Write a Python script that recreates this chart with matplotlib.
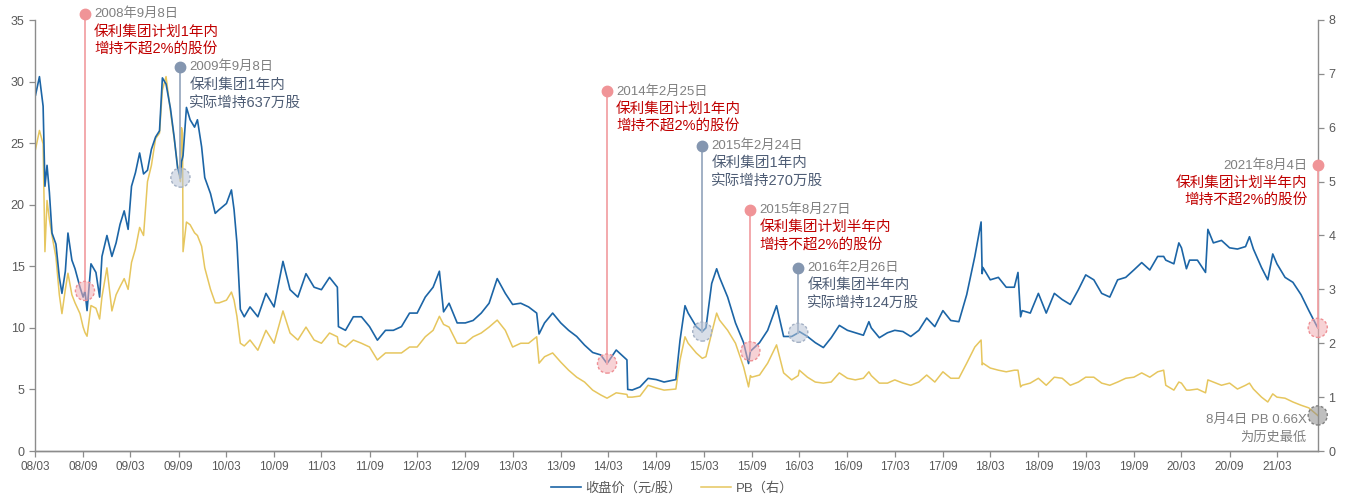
import matplotlib
matplotlib.use("Agg")
import matplotlib.pyplot as plt
import matplotlib.dates as mdates
import pandas as pd

plt.rcParams['font.family'] = ['Liberation Sans', 'Noto Sans CJK SC']

# values
dates = [
    # 2008
    "2008-03-03", "2008-03-18", "2008-04-01", "2008-04-08", "2008-04-16", "2008-04-25", "2008-05-05", "2008-05-20",
    "2008-06-02", "2008-06-12", "2008-06-25", "2008-07-05", "2008-07-20", "2008-08-01", "2008-08-20", "2008-09-01",
    "2008-09-08", "2008-09-16", "2008-10-01", "2008-10-20", "2008-11-03", "2008-11-12", "2008-12-01", "2008-12-20",
    # 2009
    "2009-01-05", "2009-01-20", "2009-02-05", "2009-02-20", "2009-03-05", "2009-03-20", "2009-04-05", "2009-04-20",
    "2009-05-05", "2009-05-20", "2009-06-05", "2009-06-20", "2009-07-01", "2009-07-15", "2009-08-01", "2009-08-15",
    "2009-08-28", "2009-09-08", "2009-09-12", "2009-09-16", "2009-09-18", "2009-10-01", "2009-10-15", "2009-11-01",
    "2009-11-12", "2009-11-28", "2009-12-10",
    # 2010
    "2010-01-01", "2010-01-19", "2010-02-03", "2010-03-03", "2010-03-22", "2010-04-01", "2010-04-12", "2010-04-25",
    "2010-05-10", "2010-06-01", "2010-07-01", "2010-08-01", "2010-09-01", "2010-10-05", "2010-11-01", "2010-12-01",
    # 2011
    "2011-01-01", "2011-02-01", "2011-03-01", "2011-04-01", "2011-05-01", "2011-05-05", "2011-06-01", "2011-07-01",
    "2011-08-01", "2011-09-01", "2011-10-01", "2011-11-01", "2011-12-01",
    # 2012
    "2012-01-01", "2012-02-01", "2012-03-01", "2012-04-01", "2012-05-01", "2012-05-25", "2012-06-10", "2012-07-01",
    "2012-08-01", "2012-09-01", "2012-10-01", "2012-11-01", "2012-12-01",
    # 2013
    "2013-01-01", "2013-02-01", "2013-03-01", "2013-04-01", "2013-05-01", "2013-06-01", "2013-06-10", "2013-07-01",
    "2013-08-01", "2013-09-01", "2013-10-01", "2013-11-01", "2013-12-01",
    # 2014
    "2014-01-01", "2014-02-01", "2014-02-25", "2014-04-01", "2014-05-12", "2014-05-15", "2014-06-01", "2014-07-01",
    "2014-08-01", "2014-09-01", "2014-10-01", "2014-11-15", "2014-12-01", "2014-12-20",
    # 2015
    "2015-01-01", "2015-02-01", "2015-02-24", "2015-03-10", "2015-04-01", "2015-04-20", "2015-05-01", "2015-06-01",
    "2015-07-01", "2015-08-01", "2015-08-20", "2015-08-27", "2015-09-01", "2015-10-01", "2015-11-01", "2015-12-05",
    # 2016
    "2016-01-01", "2016-02-01", "2016-02-26", "2016-03-01", "2016-04-01", "2016-05-01", "2016-06-01", "2016-07-01",
    "2016-08-01", "2016-09-01", "2016-10-01", "2016-11-01", "2016-11-22", "2016-12-01",
    # 2017
    "2017-01-01", "2017-02-01", "2017-03-01", "2017-04-01", "2017-05-01", "2017-06-01", "2017-07-01", "2017-08-01",
    "2017-09-01", "2017-10-01", "2017-11-01", "2017-12-01",
    # 2018
    "2018-01-01", "2018-01-25", "2018-01-29", "2018-02-01", "2018-03-01", "2018-04-01", "2018-05-01", "2018-06-01",
    "2018-06-15", "2018-06-25", "2018-07-01", "2018-08-01", "2018-09-01", "2018-10-01", "2018-11-01", "2018-12-01",
    # 2019
    "2019-01-01", "2019-02-01", "2019-03-01", "2019-04-01", "2019-05-01", "2019-06-01", "2019-07-01", "2019-08-01",
    "2019-09-01", "2019-10-01", "2019-11-01", "2019-12-01", "2019-12-24",
    # 2020
    "2020-01-01", "2020-02-01", "2020-02-20", "2020-03-01", "2020-03-20", "2020-04-01", "2020-05-01", "2020-06-01",
    "2020-06-10", "2020-07-01", "2020-08-01", "2020-09-01", "2020-10-01", "2020-11-01", "2020-11-16", "2020-12-01",
    # 2021
    "2021-01-01", "2021-01-25", "2021-02-13", "2021-03-01", "2021-04-01", "2021-05-01", "2021-06-01", "2021-07-01",
    "2021-08-04",
]

close = [
    28.9, 30.4, 28.0, 21.5, 23.2, 21.0, 17.7, 16.8, 14.1, 12.8, 14.6, 17.7, 15.5, 14.8, 13.3, 12.5,
    13.0, 11.4, 15.2, 14.5, 12.5, 15.8, 17.5, 15.8,
    16.9, 18.4, 19.5, 18.0, 21.5, 22.6, 24.2, 22.5, 22.8, 24.5, 25.5, 26.0, 30.3, 29.8, 27.8, 25.5,
    23.0, 22.2, 23.5, 23.8, 24.0, 27.9, 26.9, 26.3, 26.9, 24.7, 22.2,
    20.9, 19.3, 19.6, 20.1, 21.2, 19.6, 16.9, 11.5, 10.9, 11.7, 10.9, 12.8, 11.7, 15.4, 13.1, 12.5,
    14.4, 13.3, 13.1, 14.1, 13.3, 10.1, 9.8, 10.9, 10.9, 10.1, 9.0, 9.8, 9.8,
    10.1, 11.2, 11.2, 12.5, 13.3, 14.6, 11.3, 12.0, 10.4, 10.4, 10.6, 11.2, 12.0,
    14.0, 12.8, 11.9, 12.0, 11.7, 11.2, 9.5, 10.4, 11.2, 10.4, 9.8, 9.3, 8.6,
    8.0, 7.8, 7.1, 8.2, 7.4, 5.0, 4.95, 5.2, 5.9, 5.8, 5.6, 5.8, 9.0, 11.8,
    11.2, 10.1, 9.7, 10.0, 13.6, 14.8, 14.1, 12.5, 10.4, 8.8, 7.1, 8.1, 8.2, 8.8, 9.8, 11.8,
    9.3, 9.3, 9.6, 9.7, 9.3, 8.8, 8.4, 9.2, 10.2, 9.8, 9.6, 9.4, 10.5, 10.0,
    9.2, 9.6, 9.8, 9.7, 9.3, 9.8, 10.8, 10.1, 11.4, 10.6, 10.5, 12.7,
    15.8, 18.6, 14.4, 14.9, 13.9, 14.1, 13.3, 13.3, 14.5, 10.9, 11.4, 11.2, 12.8, 11.2, 12.8, 12.3,
    11.9, 13.1, 14.3, 13.9, 12.8, 12.5, 13.9, 14.1, 14.7, 15.3, 14.7, 15.8, 15.8,
    15.5, 15.2, 16.9, 16.5, 14.8, 15.5, 15.5, 14.5, 18.0, 16.9, 17.1, 16.5, 16.4, 16.6, 17.4, 16.4,
    14.9, 13.9, 16.0, 15.2, 14.1, 13.7, 12.7, 11.4, 10.0,
]

pb = [
    5.6, 5.95, 5.7, 3.7, 4.65, 4.3, 4.0, 3.6, 2.9, 2.55, 3.0, 3.3, 2.9, 2.75, 2.55, 2.3,
    2.2, 2.13, 2.7, 2.65, 2.45, 2.86, 3.4, 2.6,
    2.9, 3.05, 3.2, 3.0, 3.5, 3.75, 4.15, 4.0, 5.0, 5.3, 5.8, 5.9, 6.7, 6.95, 6.3, 5.8,
    5.3, 5.0, 6.0, 5.9, 3.7, 4.25, 4.2, 4.05, 4.0, 3.8, 3.4,
    3.0, 2.75, 2.75, 2.8, 2.95, 2.8, 2.5, 2.0, 1.95, 2.06, 1.87, 2.24, 2.0, 2.6, 2.19, 2.06,
    2.3, 2.06, 2.0, 2.19, 2.12, 2.0, 1.93, 2.06, 2.0, 1.93, 1.69, 1.82, 1.82,
    1.82, 1.93, 1.93, 2.12, 2.24, 2.5, 2.35, 2.3, 2.0, 2.0, 2.12, 2.19, 2.3,
    2.43, 2.24, 1.93, 2.0, 2.0, 2.12, 1.63, 1.75, 1.82, 1.65, 1.5, 1.37, 1.28,
    1.13, 1.04, 0.98, 1.08, 1.05, 1.0, 1.0, 1.02, 1.22, 1.17, 1.13, 1.15, 1.69, 2.12,
    2.0, 1.82, 1.72, 1.75, 2.19, 2.56, 2.43, 2.24, 2.0, 1.56, 1.19, 1.4, 1.37, 1.41, 1.63, 1.97,
    1.45, 1.32, 1.4, 1.5, 1.37, 1.28, 1.26, 1.28, 1.45, 1.35, 1.32, 1.35, 1.47, 1.40,
    1.26, 1.26, 1.32, 1.26, 1.22, 1.28, 1.41, 1.28, 1.47, 1.35, 1.35, 1.63,
    1.93, 2.06, 1.6, 1.63, 1.54, 1.5, 1.47, 1.5, 1.5, 1.19, 1.22, 1.26, 1.35, 1.22, 1.37, 1.35,
    1.22, 1.28, 1.37, 1.37, 1.26, 1.22, 1.28, 1.35, 1.37, 1.45, 1.37, 1.47, 1.5,
    1.22, 1.13, 1.28, 1.26, 1.13, 1.13, 1.15, 1.08, 1.32, 1.28, 1.22, 1.26, 1.15, 1.22, 1.26, 1.15,
    1.0, 0.91, 1.06, 1.0, 0.98, 0.91, 0.85, 0.8, 0.66,
]

# events (增持计划 / 实际增持)
event_dates = ["2008-09-08", "2009-09-08", "2014-02-25", "2015-02-24", "2015-08-27", "2016-02-26", "2021-08-04"]
event_close = [13.0, 22.2, 7.1, 9.7, 8.1, 9.6, 10.0]
event_kind = ["plan", "actual", "plan", "actual", "plan", "actual", "plan"]
event_title = ["2008年9月8日", "2009年9月8日", "2014年2月25日", "2015年2月24日",
               "2015年8月27日", "2016年2月26日", "2021年8月4日"]
event_line1 = ["保利集团计划1年内", "保利集团1年内", "保利集团计划1年内", "保利集团1年内",
               "保利集团计划半年内", "保利集团半年内", "保利集团计划半年内"]
event_line2 = ["增持不超2%的股份", "实际增持637万股", "增持不超2%的股份", "实际增持270万股",
               "增持不超2%的股份", "实际增持124万股", "增持不超2%的股份"]

pb_low_date = "2021-08-04"
pb_low = 0.66

# layout of the callouts: height of the marker dot (left axis units), text side
label_y = [35.5, 31.2, 29.2, 24.8, 19.6, 14.9, 23.2]
label_side = ["r", "r", "r", "r", "r", "r", "l"]

BLUE = "#1C65A6"
GOLD = "#E6C65E"
AXC = "#8C8C8C"
TXT = "#595959"
styles = {
    "plan": dict(dot="#F09497", line="#F2A3A6", text="#C00000", fill=(0.95, 0.68, 0.70, 0.55), edge="#EE8F94"),
    "actual": dict(dot="#8496B0", line="#9AAAC0", text="#4E5D75", fill=(0.72, 0.77, 0.84, 0.55), edge="#A3B0C4"),
}

x = pd.to_datetime(dates)

fig = plt.figure(figsize=(13.49, 4.97), dpi=100)
ax = fig.add_axes([35 / 1349, 46 / 497, (1318 - 35) / 1349, (451 - 20) / 497])
ax2 = ax.twinx()
ax.set_zorder(ax2.get_zorder() + 1)
ax.patch.set_visible(False)

h2, = ax2.plot(x, pb, color=GOLD, lw=1.1)
h1, = ax.plot(x, close, color=BLUE, lw=1.2)

ax.set_xlim(pd.Timestamp("2008-03-01"), pd.Timestamp("2021-08-05"))
ax.set_ylim(0, 35)
ax2.set_ylim(0, 8)
ax.set_yticks(range(0, 36, 5))
ax2.set_yticks(range(0, 9))
ax.xaxis.set_major_locator(mdates.MonthLocator(bymonth=[3, 9]))
ax.xaxis.set_major_formatter(mdates.DateFormatter("%y/%m"))

for a in (ax, ax2):
    for s in a.spines.values():
        s.set_color(AXC)
        s.set_linewidth(1.0)
    a.spines["top"].set_visible(False)
    a.tick_params(colors=AXC, labelcolor=TXT, length=4, width=0.9, labelsize=9)
ax.spines["right"].set_visible(False)
ax2.spines["left"].set_visible(False)
ax.tick_params(axis="x", labelsize=8.5, pad=3)

# callouts
for d, v, top, kind, title, l1, l2, side in zip(event_dates, event_close, label_y, event_kind,
                                                event_title, event_line1, event_line2, label_side):
    st = styles[kind]
    d = pd.Timestamp(d)
    ax.plot([d, d], [v, top], color=st["line"], lw=1.3, clip_on=False, zorder=3)
    ax.plot(d, top, "o", ms=7.5, color=st["dot"], clip_on=False, zorder=4)
    ax.scatter([d], [v], s=190, facecolor=st["fill"], edgecolor=st["edge"],
               linestyle=(0, (2, 1.5)), lw=1.0, zorder=5, clip_on=False)
    dx = 6.5 if side == "r" else -7.5
    ha = "left" if side == "r" else "right"
    ax.annotate(title, (d, top), xytext=(dx, 0), textcoords="offset points", ha=ha, va="center",
                fontsize=9.5, color="#808080", annotation_clip=False)
    ax.annotate(l1, (d, top), xytext=(dx, -12.8), textcoords="offset points", ha=ha, va="center",
                fontsize=10.5, color=st["text"], annotation_clip=False)
    ax.annotate(l2, (d, top), xytext=(dx, -25.6), textcoords="offset points", ha=ha, va="center",
                fontsize=10.5, color=st["text"], annotation_clip=False)

# PB historical low
d_low = pd.Timestamp(pb_low_date)
ax2.scatter([d_low], [pb_low], s=190, facecolor=(0.55, 0.55, 0.55, 0.55), edgecolor="#7F7F7F",
            linestyle=(0, (2, 1.5)), lw=1.0, zorder=5, clip_on=False)
ax2.annotate("8月4日 PB 0.66X", (d_low, pb_low), xytext=(-8, -3), textcoords="offset points",
             ha="right", va="center", fontsize=9.5, color="#808080", annotation_clip=False)
ax2.annotate("为历史最低", (d_low, pb_low), xytext=(-8, -16), textcoords="offset points",
             ha="right", va="center", fontsize=9.5, color="#808080", annotation_clip=False)

fig.legend([h1, h2], ["收盘价（元/股）", "PB（右）"], loc="center", bbox_to_anchor=(0.498, 0.018),
           ncol=2, frameon=False, fontsize=9.5, handlelength=2.3, handletextpad=0.3,
           columnspacing=1.5, labelcolor=TXT)

fig.savefig("out.png", dpi=100)
